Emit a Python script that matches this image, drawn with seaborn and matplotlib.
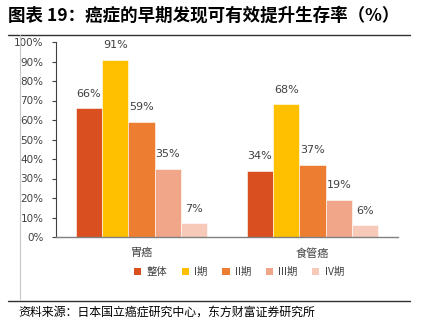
import matplotlib
matplotlib.use("Agg")
import matplotlib.pyplot as plt
from matplotlib.lines import Line2D
from matplotlib.patches import Patch
import seaborn as sns
import pandas as pd

categories = ["胃癌", "食管癌"]
stages = ["整体", "I期", "II期", "III期", "IV期"]
stomach = [66, 91, 59, 35, 7]
esophagus = [34, 68, 37, 19, 6]
colors = ["#DA4F1F", "#FFC000", "#ED7D31", "#F1A68A", "#F6C9B9"]
yticks = [0, 10, 20, 30, 40, 50, 60, 70, 80, 90, 100]

rows = []
for s, v in zip(stages, stomach):
    rows.append({"cancer": categories[0], "stage": s, "value": v})
for s, v in zip(stages, esophagus):
    rows.append({"cancer": categories[1], "stage": s, "value": v})
df = pd.DataFrame(rows)

sns.set_theme(style="white")
plt.rcParams["font.family"] = ["Noto Sans CJK SC", "DejaVu Sans"]

fig = plt.figure(figsize=(4.24, 3.36), dpi=100)
ax = fig.add_axes([56/424, 1-237/336, (398-56)/424, (237-42)/336])

sns.barplot(data=df, x="cancer", y="value", hue="stage", order=categories,
            hue_order=stages, palette=colors, saturation=1, width=0.77,
            dodge=True, ax=ax, legend=False, errorbar=None,
            edgecolor="#FFFFFF", linewidth=0.4)

for cont in ax.containers:
    ax.bar_label(cont, labels=[f"{int(round(b.get_height()))}%" for b in cont],
                 padding=7, fontsize=8, color="#404040", family="DejaVu Sans")

ax.set_xlim(-0.5, 1.5)
ax.set_ylim(0, 100)
ax.set_yticks(yticks)
ax.set_yticklabels([f"{t}%" for t in yticks], fontsize=7.5, color="#404040",
                   family="DejaVu Sans")
ax.tick_params(axis="y", length=3, width=0.8, color="#404040", direction="out", pad=6, left=True)
ax.tick_params(axis="x", length=0, pad=8, labelsize=8, labelcolor="#404040")
ax.set_xlabel("")
ax.set_ylabel("")
for sp in ["top", "right"]:
    ax.spines[sp].set_visible(False)
ax.spines["left"].set_color("#404040")
ax.spines["left"].set_linewidth(0.8)
ax.spines["bottom"].set_color("#808080")
ax.spines["bottom"].set_linewidth(1.0)

handles = [Patch(facecolor=c, edgecolor="none") for c in colors]
ax.legend(handles, stages, loc="center", bbox_to_anchor=(0.535, -0.18), ncol=5,
          frameon=False, fontsize=7.5, handlelength=0.7, handleheight=0.7,
          handletextpad=0.5, columnspacing=1.4, labelcolor="#404040")

fig.text(8/424, 1-16/336, "图表 19：癌症的早期发现可有效提升生存率（%）",
         fontsize=12.6, fontweight="bold", va="center", ha="left", color="#000000")
fig.add_artist(Line2D([8/424, 410/424], [1-35/336, 1-35/336], color="#303030", lw=1.0))
fig.add_artist(Line2D([8/424, 410/424], [1-301/336, 1-301/336], color="#303030", lw=1.0))
fig.add_artist(Line2D([20/424, 20/424], [1-35/336, 1-300/336], color="#C8C8C8", lw=0.8))
fig.text(18/424, 1-312/336, "资料来源：日本国立癌症研究中心，东方财富证券研究所",
         fontsize=8.6, va="center", ha="left", color="#000000")

fig.savefig("out.png", dpi=100)
